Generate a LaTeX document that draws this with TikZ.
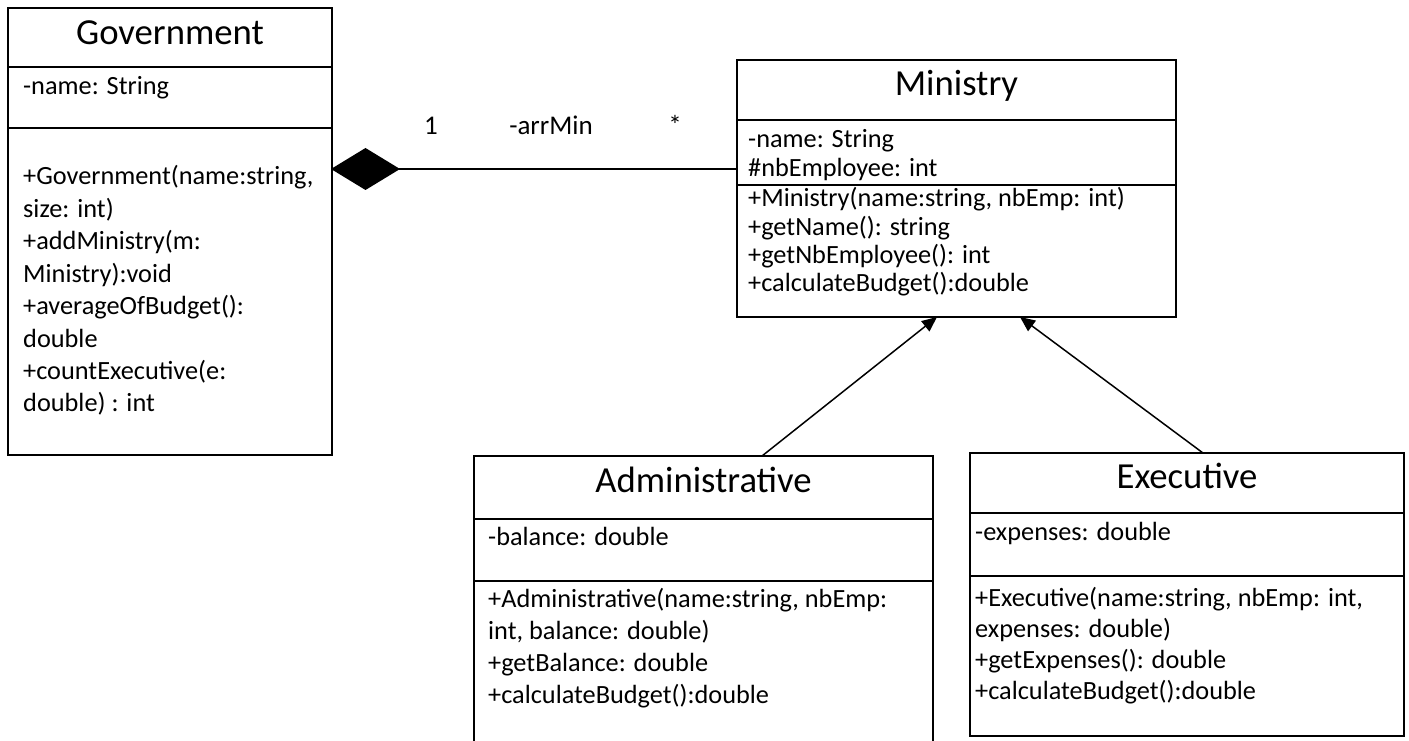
\documentclass[tikz,border=0pt]{standalone}
\usepackage{fontspec}
\setmainfont{Carlito}
\usetikzlibrary{arrows.meta}
\newcommand\umlbody{\fontsize{26.3}{32.4}\selectfont}
\newcommand\umltitle{\fontsize{36.7}{44}\selectfont}
\begin{document}
\begin{tikzpicture}[x=1pt,y=-1pt,
  classbox/.style={draw=black,line width=2pt,inner sep=0pt,outer sep=0pt},
  divider/.style={line width=2pt},
  txt/.style={anchor=base west,inner sep=0pt,font=\umlbody},
  ttl/.style={anchor=base,inner sep=0pt,font=\umltitle},
  lbl/.style={anchor=base,inner sep=0pt,font=\fontsize{27}{32}\selectfont},
  comp/.style={line width=2pt,-{Diamond[length=69pt,width=42pt]}},
  gen/.style={line width=1.5pt,-{Triangle[length=15pt,width=13pt]}}]
\fill[white] (0,0) rectangle (1409,741);
\useasboundingbox (0,0) rectangle (1409,741);
\clip (0,0) rectangle (1409,741);

% Government
\node[classbox,minimum width=324pt,minimum height=447pt] (gov) at (170,231.5) {};
\draw[divider] (8,67) -- (332,67);
\draw[divider] (8,128) -- (332,128);
\node[ttl] (govT) at (170,45) {Government};
\node[txt] (govA1) at (23,95) {-name: String};
\node[txt] (govM1) at (23,185) {+Government(name:string,};
\node[txt] (govM2) at (23,217.4) {size: int)};
\node[txt] (govM3) at (23,249.8) {+addMinistry(m:};
\node[txt] (govM4) at (23,282.2) {Ministry):void};
\node[txt] (govM5) at (23,314.6) {+averageOfBudget():};
\node[txt] (govM6) at (23,347) {double};
\node[txt] (govM7) at (23,379.4) {+countExecutive(e:};
\node[txt] (govM8) at (23,411.8) {double) : int};

% Ministry
\node[classbox,minimum width=439pt,minimum height=257pt] (min) at (956.5,188.5) {};
\draw[divider] (737,120) -- (1176,120);
\draw[divider] (737,185) -- (1176,185);
\node[ttl] (minT) at (956.5,96) {Ministry};
\node[txt] (minA1) at (748,148) {-name: String};
\node[txt] (minA2) at (748,176) {\#nbEmployee: int};
\node[txt] (minM1) at (748,207) {+Ministry(name:string, nbEmp: int)};
\node[txt] (minM2) at (748,235) {+getName(): string};
\node[txt] (minM3) at (748,263) {+getNbEmployee(): int};
\node[txt] (minM4) at (748,291) {+calculateBudget():double};

% Administrative
\node[classbox,minimum width=459pt,minimum height=304pt] (adm) at (703.5,608) {};
\draw[divider] (474,519) -- (933,519);
\draw[divider] (474,581) -- (933,581);
\node[ttl] (admT) at (703.5,492) {Administrative};
\node[txt] (admA1) at (488,545) {-balance: double};
\node[txt] (admM1) at (488,607) {+Administrative(name:string, nbEmp:};
\node[txt] (admM2) at (488,639) {int, balance: double)};
\node[txt] (admM3) at (488,671) {+getBalance: double};
\node[txt] (admM4) at (488,703) {+calculateBudget():double};

% Executive
\node[classbox,minimum width=434pt,minimum height=283pt] (exe) at (1187,594.5) {};
\draw[divider] (970,513) -- (1404,513);
\draw[divider] (970,576) -- (1404,576);
\node[ttl] (exeT) at (1187,488) {Executive};
\node[txt] (exeA1) at (975,540) {-expenses: double};
\node[txt] (exeM1) at (975,606) {+Executive(name:string, nbEmp: int,};
\node[txt] (exeM2) at (975,637) {expenses: double)};
\node[txt] (exeM3) at (975,668) {+getExpenses(): double};
\node[txt] (exeM4) at (975,699) {+calculateBudget():double};

% composition
\draw[comp] ([yshift=19.5pt]min.west) -- ([yshift=62.5pt,xshift=-1pt]gov.east);
\node[lbl] (mult1) at (431,135) {1};
\node[lbl] (role) at (551,135) {-arrMin};
\node[lbl] (multN) at (675,135) {*};

% generalisation
\draw[gen] ([xshift=58.5pt]adm.north) -- ([xshift=-19.5pt]min.south);
\draw[gen] ([xshift=16pt]exe.north) -- ([xshift=63.5pt]min.south);
\end{tikzpicture}
\end{document}
